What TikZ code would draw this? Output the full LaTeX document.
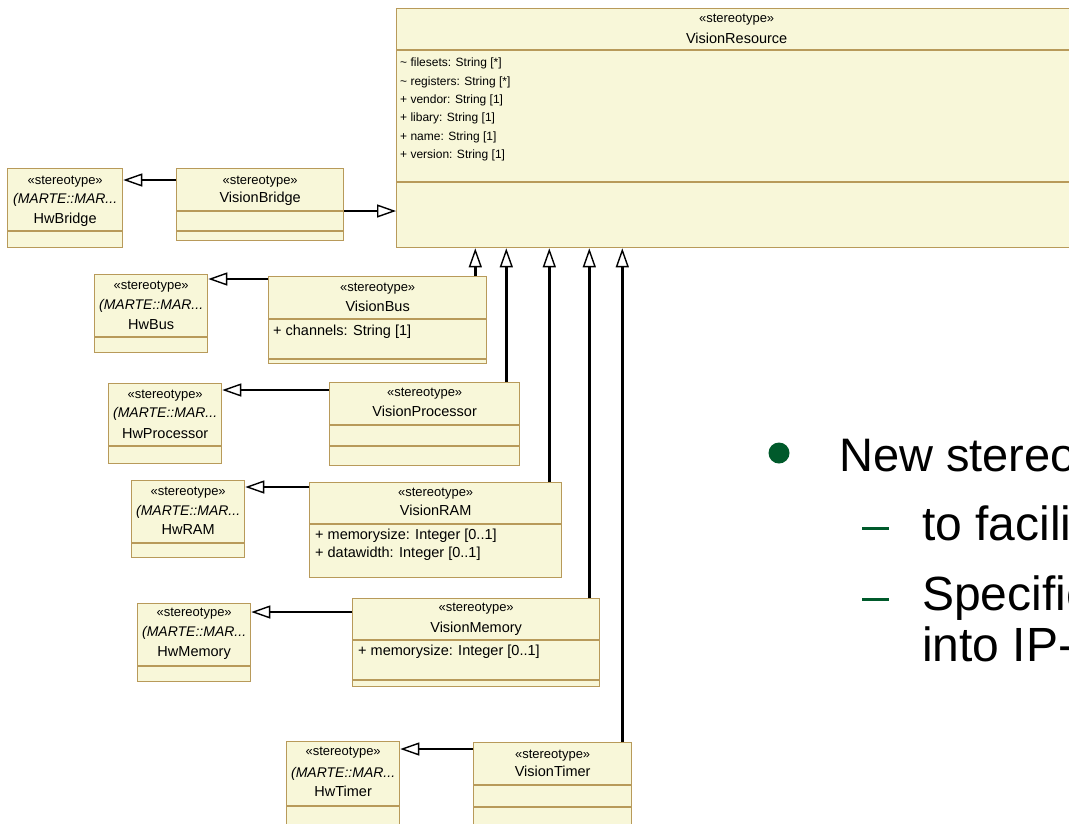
\documentclass[tikz,border=0pt]{standalone}
\usepackage{fontspec}
\setmainfont{Liberation Sans}
\usetikzlibrary{arrows.meta}
\definecolor{boxfill}{RGB}{248,247,217}
\definecolor{boxline}{RGB}{184,154,90}
\definecolor{bulletgreen}{RGB}{0,90,43}

% horizontal compartment line of a class box, #2 px below its top edge
\newcommand\compline[2]{%
  \draw[boxline, line width=1.3pt] ([yshift=-#2pt]#1.north west) -- ([yshift=-#2pt]#1.north east);}

\begin{document}
\begin{tikzpicture}[x=1pt, y=-1pt,
  umlbox/.style={draw=boxline, fill=boxfill, line width=1.3pt, inner sep=0pt, anchor=north west},
  gen/.style={line width=2.8pt,
    -{Triangle[open, length=19pt, width=13pt, line width=1.4pt]}},
  stereo/.style={font=\fontsize{13}{13}\selectfont, inner sep=0pt, anchor=mid},
  cname/.style={font=\fontsize{14.5}{14.5}\selectfont, inner sep=0pt, anchor=mid},
  marte/.style={font=\fontsize{14}{14}\selectfont\itshape, inner sep=0pt, anchor=mid},
  attr/.style={font=\fontsize{14.5}{14.5}\selectfont, inner sep=0pt, anchor=mid west},
  rattr/.style={font=\fontsize{12}{12}\selectfont, inner sep=0pt, anchor=mid west},
  slide/.style={font=\fontsize{47}{47}\selectfont, inner sep=0pt, anchor=base west},
  subslide/.style={font=\fontsize{48}{48}\selectfont, inner sep=0pt, anchor=base west},
]
\useasboundingbox (0,0) rectangle (1069,823);
\clip (0,0) rectangle (1069,823);
\fill[white] (0,0) rectangle (1069,823);

% ---------- VisionResource ----------
\node[umlbox, minimum width=680pt, minimum height=239pt] (vres) at (396,8) {};
\compline{vres}{42}
\compline{vres}{174}
\node[stereo] at ([yshift=-12pt]vres.north) {«stereotype»};
\node[cname] at ([yshift=-33pt]vres.north) {VisionResource};
\node[rattr] at ([xshift=4pt, yshift=-56pt]vres.north west) {\char`\~{} filesets: String [*]};
\node[rattr] at ([xshift=4pt, yshift=-74.4pt]vres.north west) {\char`\~{} registers: String [*]};
\node[rattr] at ([xshift=4pt, yshift=-92.8pt]vres.north west) {+ vendor: String [1]};
\node[rattr] at ([xshift=4pt, yshift=-111.2pt]vres.north west) {+ libary: String [1]};
\node[rattr] at ([xshift=4pt, yshift=-129.6pt]vres.north west) {+ name: String [1]};
\node[rattr] at ([xshift=4pt, yshift=-148pt]vres.north west) {+ version: String [1]};

% ---------- Bridge ----------
\node[umlbox, minimum width=115pt, minimum height=79pt] (hwbridge) at (7,168) {};
\compline{hwbridge}{63}
\node[stereo] at ([yshift=-14pt]hwbridge.north) {«stereotype»};
\node[marte] at ([yshift=-33pt]hwbridge.north) {(MARTE::MAR...};
\node[cname] at ([yshift=-53pt]hwbridge.north) {HwBridge};

\node[umlbox, minimum width=167pt, minimum height=72pt] (vbridge) at (176,168) {};
\compline{vbridge}{43}
\compline{vbridge}{63}
\node[stereo] at ([yshift=-14pt]vbridge.north) {«stereotype»};
\node[cname] at ([yshift=-32pt]vbridge.north) {VisionBridge};

% ---------- Bus ----------
\node[umlbox, minimum width=113pt, minimum height=78pt] (hwbus) at (94,274) {};
\compline{hwbus}{63}
\node[stereo] at ([yshift=-13pt]hwbus.north) {«stereotype»};
\node[marte] at ([yshift=-33pt]hwbus.north) {(MARTE::MAR...};
\node[cname] at ([yshift=-53pt]hwbus.north) {HwBus};

\node[umlbox, minimum width=218pt, minimum height=87pt] (vbus) at (268,276) {};
\compline{vbus}{43}
\compline{vbus}{83}
\node[stereo] at ([yshift=-13pt]vbus.north) {«stereotype»};
\node[cname] at ([yshift=-33pt]vbus.north) {VisionBus};
\node[attr] at ([xshift=5pt, yshift=-57pt]vbus.north west) {+ channels: String [1]};

% ---------- Processor ----------
\node[umlbox, minimum width=113pt, minimum height=80pt] (hwproc) at (108,383) {};
\compline{hwproc}{63}
\node[stereo] at ([yshift=-13pt]hwproc.north) {«stereotype»};
\node[marte] at ([yshift=-32pt]hwproc.north) {(MARTE::MAR...};
\node[cname] at ([yshift=-53pt]hwproc.north) {HwProcessor};

\node[umlbox, minimum width=190pt, minimum height=83pt] (vproc) at (329,382) {};
\compline{vproc}{43}
\compline{vproc}{64}
\node[stereo] at ([yshift=-12pt]vproc.north) {«stereotype»};
\node[cname] at ([yshift=-32pt]vproc.north) {VisionProcessor};

% ---------- RAM ----------
\node[umlbox, minimum width=113pt, minimum height=77pt] (hwram) at (131,480) {};
\compline{hwram}{63}
\node[stereo] at ([yshift=-13pt]hwram.north) {«stereotype»};
\node[marte] at ([yshift=-33pt]hwram.north) {(MARTE::MAR...};
\node[cname] at ([yshift=-52pt]hwram.north) {HwRAM};

\node[umlbox, minimum width=252pt, minimum height=95pt] (vram) at (309,482) {};
\compline{vram}{42}
\node[stereo] at ([yshift=-12pt]vram.north) {«stereotype»};
\node[cname] at ([yshift=-31pt]vram.north) {VisionRAM};
\node[attr] at ([xshift=6pt, yshift=-55pt]vram.north west) {+ memorysize: Integer [0..1]};
\node[attr] at ([xshift=6pt, yshift=-73pt]vram.north west) {+ datawidth: Integer [0..1]};

% ---------- Memory ----------
\node[umlbox, minimum width=113pt, minimum height=78pt] (hwmem) at (137,603) {};
\compline{hwmem}{63}
\node[stereo] at ([yshift=-11pt]hwmem.north) {«stereotype»};
\node[marte] at ([yshift=-31pt]hwmem.north) {(MARTE::MAR...};
\node[cname] at ([yshift=-51pt]hwmem.north) {HwMemory};

\node[umlbox, minimum width=247pt, minimum height=88pt] (vmem) at (352,598) {};
\compline{vmem}{42}
\compline{vmem}{82}
\node[stereo] at ([yshift=-11pt]vmem.north) {«stereotype»};
\node[cname] at ([yshift=-32pt]vmem.north) {VisionMemory};
\node[attr] at ([xshift=6pt, yshift=-55pt]vmem.north west) {+ memorysize: Integer [0..1]};

% ---------- Timer ----------
\node[umlbox, minimum width=113pt, minimum height=90pt] (hwtimer) at (286,741) {};
\compline{hwtimer}{65}
\node[stereo] at ([yshift=-12pt]hwtimer.north) {«stereotype»};
\node[marte] at ([yshift=-34pt]hwtimer.north) {(MARTE::MAR...};
\node[cname] at ([yshift=-53pt]hwtimer.north) {HwTimer};

\node[umlbox, minimum width=158pt, minimum height=90pt] (vtimer) at (473,742) {};
\compline{vtimer}{43}
\compline{vtimer}{65}
\node[stereo] at ([yshift=-14pt]vtimer.north) {«stereotype»};
\node[cname] at ([yshift=-32pt]vtimer.north) {VisionTimer};

% ---------- generalisations to the MARTE hardware stereotypes ----------
\draw[gen] ([yshift=-12pt]vbridge.north west) -- ([yshift=-12pt]vbridge.north west -| hwbridge.east);
\draw[gen] ([yshift=-3pt]vbus.north west) -- ([yshift=-3pt]vbus.north west -| hwbus.east);
\draw[gen] ([yshift=-8pt]vproc.north west) -- ([yshift=-8pt]vproc.north west -| hwproc.east);
\draw[gen] ([yshift=-5pt]vram.north west) -- ([yshift=-5pt]vram.north west -| hwram.east);
\draw[gen] ([yshift=-14pt]vmem.north west) -- ([yshift=-14pt]vmem.north west -| hwmem.east);
\draw[gen] ([yshift=-7pt]vtimer.north west) -- ([yshift=-7pt]vtimer.north west -| hwtimer.east);

% ---------- generalisations to VisionResource ----------
\draw[gen] ([yshift=-43pt]vbridge.north east) -- ([yshift=-43pt]vbridge.north east -| vres.west);
\draw[gen] ([xshift=-12pt]vbus.north east) -- ([xshift=-12pt]vbus.north east |- vres.south);
\draw[gen] ([xshift=-14pt]vproc.north east) -- ([xshift=-14pt]vproc.north east |- vres.south);
\draw[gen] ([xshift=-13pt]vram.north east) -- ([xshift=-13pt]vram.north east |- vres.south);
\draw[gen] ([xshift=-11pt]vmem.north east) -- ([xshift=-11pt]vmem.north east |- vres.south);
\draw[gen] ([xshift=-10pt]vtimer.north east) -- ([xshift=-10pt]vtimer.north east |- vres.south);

% ---------- slide text ----------
\fill[bulletgreen] (779,453) circle[radius=10.5];
\node[slide] (t1) at (839,471) {New stereotypes};
\coordinate (d1) at (862,528);
\coordinate (d2) at (862,599);
\draw[bulletgreen, line width=3pt] (d1) -- ++(27,0);
\draw[bulletgreen, line width=3pt] (d2) -- ++(27,0);
\node[subslide] (t2) at (922,540) {to facilitate};
\node[subslide] (t3) at (922,610) {Specification};
\node[subslide] (t4) at (922,661) {into IP-XACT};
\end{tikzpicture}
\end{document}
